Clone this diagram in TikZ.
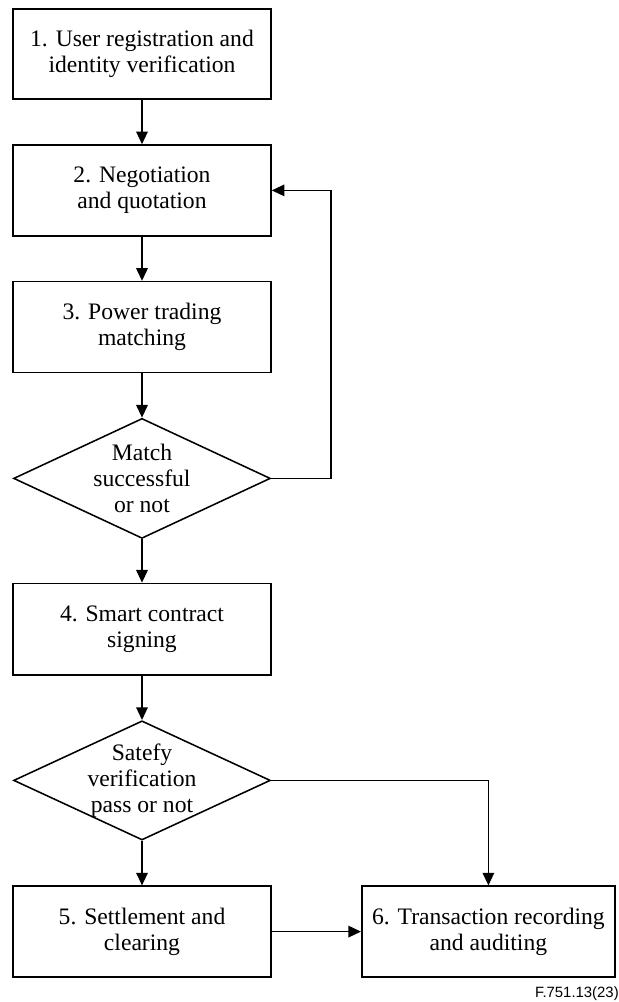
\documentclass[tikz,border=0pt]{standalone}
\usepackage{fontspec}
\setmainfont{Liberation Serif}
\setsansfont{Liberation Sans}
\usetikzlibrary{arrows.meta,shapes.geometric}
\tikzset{
  procbox/.style={draw, line width=1.1pt, minimum width=6.45cm, minimum height=2.27cm, align=center, inner sep=0pt, font=\fontsize{16.8}{18.4}\selectfont},
  decision/.style={draw, diamond, line width=1.1pt, shape aspect=2.14, minimum width=6.42cm, minimum height=3cm, align=center, inner sep=-1.5pt, font=\fontsize{16.8}{18.4}\selectfont},
  flowarrow/.style={line width=1.1pt, -{Triangle[length=9pt, width=8.2pt]}},
  flowline/.style={line width=1.1pt}
}
\begin{document}
\begin{tikzpicture}
  \useasboundingbox (0,0) rectangle (15.475,-25.05);
  % Steps
  \node[procbox, minimum height=2.25cm] (reg) at (3.55,-1.35) {1. User registration and\\identity verification};
  \node[procbox] (nego) at (3.55,-4.76) {2. Negotiation\\and quotation};
  \node[procbox] (match) at (3.55,-8.175) {3. Power trading\\matching};
  \node[decision] (ok) at (3.55,-11.96) {Match\\successful\\or not};
  \node[procbox, minimum height=2.29cm] (sign) at (3.55,-15.73) {4. Smart contract\\signing};
  \node[decision, minimum height=2.98cm] (pass) at (3.55,-19.51) {Satefy\\verification\\pass or not};
  \node[procbox] (settle) at (3.55,-23.29) {5. Settlement and\\clearing};
  \node[procbox, minimum width=6.33cm] (audit) at (12.21,-23.29) {6. Transaction recording\\and auditing};
  % Connectors
  \draw[flowarrow] (reg) -- (nego);
  \draw[flowarrow] (nego) -- (match);
  \draw[flowarrow] (match) -- (ok);
  \draw[flowarrow] (ok) -- (sign);
  \draw[flowarrow] (ok.east) -- (8.275,0 |- ok.east) |- (nego.east);
  \draw[flowarrow] (sign) -- (pass);
  \draw[flowarrow] (pass) -- (settle);
  \draw[flowarrow] (pass.east) -| (audit.north);
  \draw[flowarrow] (settle) -- (audit);
  % Figure number
  \node[anchor=base east, inner sep=0pt, font=\sffamily\fontsize{10.6}{12}\selectfont] (fignum) at (15.475,-24.93) {F.751.13(23)};
\end{tikzpicture}
\end{document}
